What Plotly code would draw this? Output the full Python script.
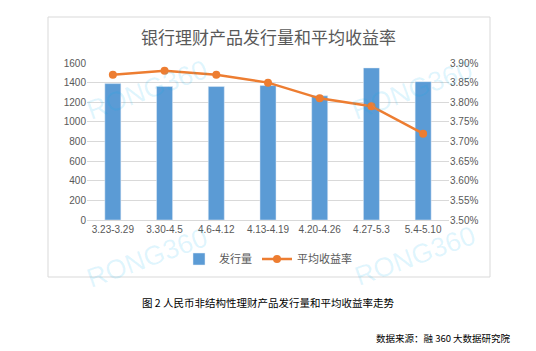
import plotly.graph_objects as go

categories = ["3.23-3.29", "3.30-4.5", "4.6-4.12", "4.13-4.19", "4.20-4.26", "4.27-5.3", "5.4-5.10"]
issuance = [1390, 1360, 1360, 1370, 1265, 1550, 1410]
avg_yield = [3.87, 3.88, 3.87, 3.85, 3.81, 3.79, 3.72]
left_ticks = [0, 200, 400, 600, 800, 1000, 1200, 1400, 1600]
right_ticks = [3.50, 3.55, 3.60, 3.65, 3.70, 3.75, 3.80, 3.85, 3.90]
right_labels = ["%.2f%%" % v for v in right_ticks]

W, H = 536, 351
L, R, T, B = 87, 449, 63, 220
pw, ph = R - L, B - T

def px(x):
    return (x - L) / pw

def py(y):
    return (B - y) / ph

cjk = "Noto Sans CJK SC"
lat = "Liberation Sans, Arial"
gray = "#595959"

fig = go.Figure()
fig.add_trace(go.Bar(x=categories, y=issuance, name="发行量", marker_color="#5b9bd5",
                     width=0.31, yaxis="y"))
fig.add_trace(go.Scatter(x=categories, y=avg_yield, name="平均收益率", mode="lines+markers",
                         line=dict(color="#ed7d31", width=2.5),
                         marker=dict(size=8, color="#ed7d31"), yaxis="y2"))

annotations = []
# watermarks
for (wx, wy) in [(147, 90), (412, 90), (147, 258), (415, 256)]:
    annotations.append(dict(text="RONG360", x=px(wx), y=py(wy), xref="paper", yref="paper",
                            xanchor="center", yanchor="middle",
                            showarrow=False, textangle=-20,
                            font=dict(family=lat, size=27, color="rgba(0,176,240,0.13)")))
annotations += [
    dict(text="银行理财产品发行量和平均收益率", x=px(268), y=py(36), xref="paper", yref="paper",
         xanchor="center", yanchor="middle",
         showarrow=False, font=dict(family=cjk, size=17, color=gray)),
    dict(text="图 2 人民币非结构性理财产品发行量和平均收益率走势", x=px(268), y=py(302),
         xref="paper", yref="paper", xanchor="center", yanchor="middle", showarrow=False,
         font=dict(family=cjk, size=10.5, color="#000000")),
    dict(text="数据来源：融 360 大数据研究院", x=px(513), y=py(338), xref="paper", yref="paper",
         xanchor="right", yanchor="middle", showarrow=False,
         font=dict(family=cjk, size=9.5, color="#000000")),
]

fig.update_layout(
    width=W, height=H,
    margin=dict(l=L, r=W - R, t=T, b=H - B),
    paper_bgcolor="white", plot_bgcolor="white",
    showlegend=True,
    legend=dict(orientation="h", x=px(268), y=py(259), xanchor="center", yanchor="middle",
                font=dict(family=cjk, size=11, color=gray), itemwidth=30, tracegroupgap=0,
                bgcolor="rgba(0,0,0,0)"),
    xaxis=dict(tickfont=dict(family=lat, size=10, color=gray), showgrid=False,
               showline=True, linecolor="#d9d9d9", ticks="", fixedrange=True),
    yaxis=dict(range=[0, 1600], tickvals=left_ticks, tickfont=dict(family=lat, size=10, color=gray),
               showgrid=True, gridcolor="#d9d9d9", zeroline=False, ticks="", showline=False),
    yaxis2=dict(range=[3.50, 3.90], tickvals=right_ticks, ticktext=right_labels,
                overlaying="y", side="right", showgrid=False, zeroline=False,
                tickfont=dict(family=lat, size=10, color=gray)),
    annotations=annotations,
    shapes=[dict(type="rect", xref="paper", yref="paper", x0=px(48), x1=px(490),
                 y0=py(277), y1=py(17), line=dict(color="#d9d9d9", width=1), layer="below")],
)

fig.write_html("out.html")
